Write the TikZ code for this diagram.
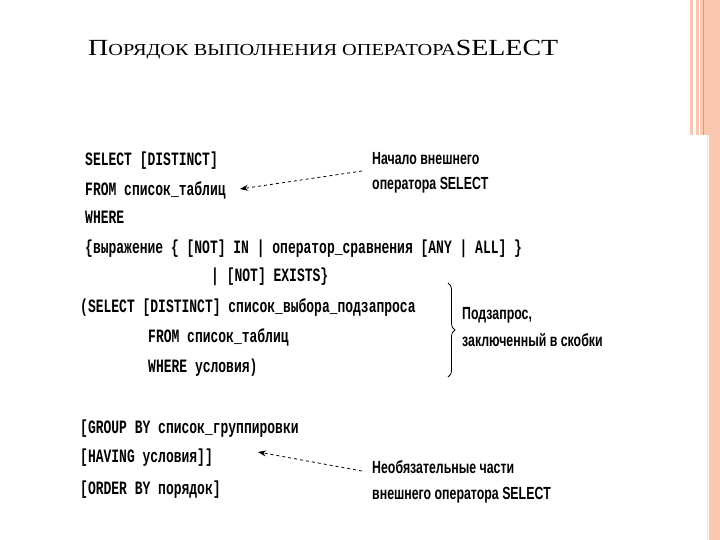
\documentclass[tikz,border=0pt]{standalone}
\usepackage{fontspec}
\usepackage{graphicx}
\setmainfont{Liberation Serif}
\newfontfamily\codefont{Liberation Mono}
\newfontfamily\notefont{Liberation Sans}
\usetikzlibrary{decorations.pathreplacing,arrows.meta}
\definecolor{stripe}{RGB}{250,200,175}
\definecolor{stripedk}{RGB}{235,150,115}
\newcommand{\tall}[1]{\scalebox{1}[1.45]{#1}}
\newcommand{\ntall}[1]{\scalebox{0.95}[1.35]{#1}}
\begin{document}
\begin{tikzpicture}[x=1pt,y=-1pt,
  code/.style={anchor=base west,inner sep=0pt,font=\codefont\bfseries\fontsize{13}{13}\selectfont},
  note/.style={anchor=base west,inner sep=0pt,font=\notefont\bfseries\fontsize{13}{13}\selectfont},
  darr/.style={dashed,thick,-{Stealth[length=8pt,width=6pt]}}]
\useasboundingbox (0,0) rectangle (720,540);
\fill[white] (0,0) rectangle (720,540);
% right decoration
\fill[stripe] (690,0) rectangle (720,135);
\fill[white] (693,0) rectangle (696,135);
\draw[stripedk,line width=0.8pt] (703,0) -- (703,135);
\draw[white,line width=1pt] (699,0) -- (699,135);
\fill[stripe] (709,135) rectangle (720,540);
\draw[stripe!70,line width=0.5pt] (707.5,135) -- (707.5,540);
% title
\node[anchor=base west,inner sep=0pt] (title) at (88,56) {\scalebox{1.27}[1.05]{\fontsize{22}{24}\selectfont П\fontsize{16}{18}\selectfont ОРЯДОК ВЫПОЛНЕНИЯ ОПЕРАТОРА\fontsize{22}{24}\selectfont SELECT}};
% code
\node[code] (l1) at (85,166) {\tall{SELECT [DISTINCT]}};
\node[code] (l2) at (85,196) {\tall{FROM список\_таблиц}};
\node[code] (l3) at (85,224) {\tall{WHERE}};
\node[code] (l4) at (85,253) {\tall{\{выражение \{ [NOT] IN | оператор\_сравнения [ANY | ALL] \}}};
\node[code] (l5) at (211,281) {\tall{| [NOT] EXISTS\}}};
\node[code] (l6) at (80,312) {\tall{(SELECT [DISTINCT] список\_выбора\_подзапроса}};
\node[code] (l7) at (148,342) {\tall{FROM список\_таблиц}};
\node[code] (l8) at (148,372) {\tall{WHERE условия)}};
\node[code] (l9) at (80,433) {\tall{[GROUP BY список\_группировки}};
\node[code] (l10) at (80,462) {\tall{[HAVING условия]]}};
\node[code] (l11) at (80,494) {\tall{[ORDER BY порядок]}};
% notes
\node[note] (n1) at (372,165) {\ntall{Начало внешнего}};
\node[note] (n2) at (372,190) {\ntall{оператора SELECT}};
\node[note] (n3) at (462,319) {\ntall{Подзапрос,}};
\node[note] (n4) at (462,346) {\ntall{заключенный в скобки}};
\node[note] (n5) at (372,473) {\ntall{Необязательные части}};
\node[note] (n6) at (372,499) {\ntall{внешнего оператора SELECT}};
\coordinate (a1s) at (362,171);
\coordinate (a1e) at (240,189);
\coordinate (a2s) at (362,471);
\coordinate (a2e) at (258,452);
\draw[darr] (a1s) -- (a1e);
\draw[darr] (a2s) -- (a2e);
\coordinate (b1) at (448,283);
\coordinate (b2) at (448,377);
\draw[thick,decorate,decoration={brace,amplitude=7pt}] (b1) -- (b2);
\end{tikzpicture}
\end{document}
